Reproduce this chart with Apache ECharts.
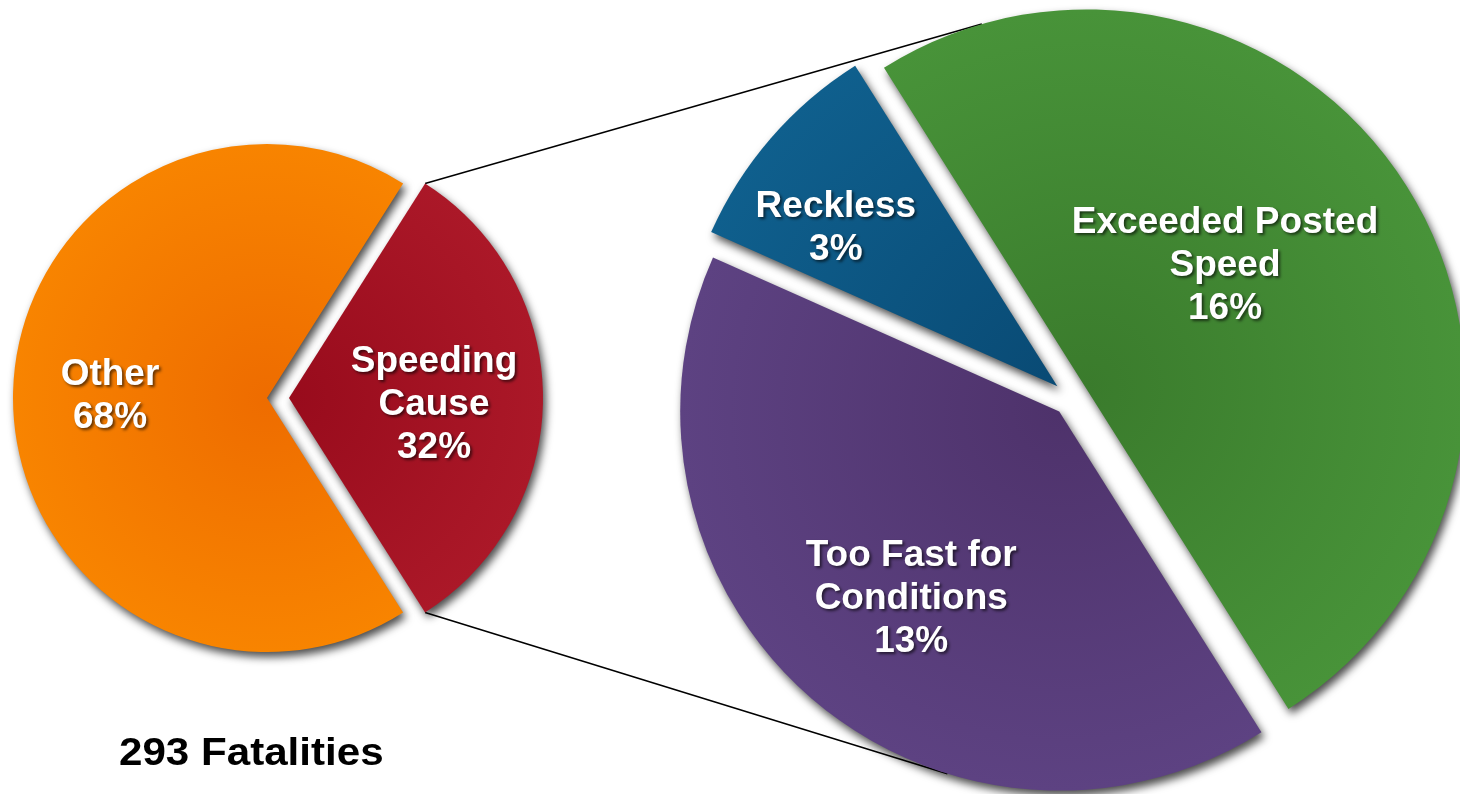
<!DOCTYPE html>
<html>
<head>
<meta charset="utf-8">
<script src="https://cdn.jsdelivr.net/npm/echarts@6/dist/echarts.min.js"></script>
<style>
  html, body { margin: 0; padding: 0; background: #ffffff; }
  #chart { width: 1460px; height: 794px; }
</style>
</head>
<body>
<div id="chart"></div>
<script>
// Share of fatalities: all causes vs. speeding-related
const overviewNames = ['Speeding\nCause', 'Other'];
const overviewValues = [32, 68];

// Breakdown of the speeding-related share
const speedingNames = ['Reckless', 'Exceeded Posted\nSpeed', 'Too Fast for\nConditions'];
const speedingValues = [3, 16, 13];

const totalFatalities = 293;

// Colours: [centre, rim] for each slice
const overviewColors = [['#980b1c', '#ab1828'], ['#ee6c00', '#f88400']];
const speedingColors = [['#094a74', '#0f5f8d'], ['#3a7b2c', '#489339'], ['#4e326b', '#5d4282']];

// Pie geometry
const LEFT = { cx: 267, cy: 398, r: 254, offset: 22 };
const RIGHT = { cx: 1071, cy: 398, r: 379, offset: 18 };

const sum = a => a.reduce((s, v) => s + v, 0);
// First slice of the overview pie is centred on 3 o'clock
LEFT.start = overviewValues[0] / sum(overviewValues) * 180;
RIGHT.start = 156;

const DEG = Math.PI / 180;

// Slice angle spans (math degrees, clockwise from start)
function spans(values, start) {
  const total = sum(values);
  let a = start;
  return values.map(v => {
    const s = a, e = a - v / total * 360;
    a = e;
    return { s, e, mid: (s + e) / 2 };
  });
}
const leftSpans = spans(overviewValues, LEFT.start);
const rightSpans = spans(speedingValues, RIGHT.start);

function shifted(geo, mid) {
  return [geo.cx + geo.offset * Math.cos(mid * DEG), geo.cy - geo.offset * Math.sin(mid * DEG)];
}

// Tangent from point P to circle (C, r); side -1 upper, +1 lower
function tangent(P, C, r, side) {
  const dx = C[0] - P[0], dy = C[1] - P[1];
  const d = Math.hypot(dx, dy);
  const theta = Math.atan2(dy, dx);
  const alpha = Math.asin(r / d);
  const dir = theta + side * alpha;
  const len = Math.sqrt(d * d - r * r);
  return [P[0] + len * Math.cos(dir), P[1] + len * Math.sin(dir)];
}

// Corners of the exploded speeding slice
const spApex = shifted(LEFT, leftSpans[0].mid);
const spTop = [spApex[0] + LEFT.r * Math.cos(leftSpans[0].s * DEG), spApex[1] - LEFT.r * Math.sin(leftSpans[0].s * DEG)];
const spBot = [spApex[0] + LEFT.r * Math.cos(leftSpans[0].e * DEG), spApex[1] - LEFT.r * Math.sin(leftSpans[0].e * DEG)];
const topEnd = tangent(spTop, shifted(RIGHT, rightSpans[1].mid), RIGHT.r, -1);
const botEnd = tangent(spBot, shifted(RIGHT, rightSpans[2].mid), RIGHT.r, 1);

function grad(geo, c) {
  return {
    type: 'radial', x: geo.cx, y: geo.cy, r: geo.r, global: true,
    colorStops: [{ offset: 0, color: c[0] }, { offset: 1, color: c[1] }]
  };
}

const labelBase = {
  show: true,
  position: 'inside',
  color: '#ffffff',
  fontFamily: 'Liberation Sans, Arial, sans-serif',
  fontWeight: 'bold',
  fontSize: 37,
  lineHeight: 43,
  align: 'center',
  verticalAlign: 'middle',
  textShadowColor: 'rgba(0,0,0,0.6)',
  textShadowBlur: 3,
  textShadowOffsetX: 2,
  textShadowOffsetY: 2,
  formatter: p => p.name + '\n' + p.value + '%'
};

const sliceStyle = {
  shadowColor: 'rgba(0,0,0,0.7)',
  shadowBlur: 8,
  shadowOffsetX: 3,
  shadowOffsetY: 5,
  borderWidth: 0
};

// Label nudges away from the default inside spot, per slice
const leftLabelShift = [[15, 7], [-27, -2]];
const rightLabelShift = [[-76, -32], [-24, -20], [-22, 42]];

const chart = echarts.init(document.getElementById('chart'), null, { renderer: 'canvas' });
chart.setOption({
  animation: false,
  backgroundColor: '#ffffff',
  graphic: {
    elements: [
      { type: 'line', z: 0, shape: { x1: spTop[0], y1: spTop[1], x2: topEnd[0], y2: topEnd[1] }, style: { stroke: '#000', lineWidth: 1.6 } },
      { type: 'line', z: 0, shape: { x1: spBot[0], y1: spBot[1], x2: botEnd[0], y2: botEnd[1] }, style: { stroke: '#000', lineWidth: 1.6 } },
      {
        type: 'text', z: 10, x: 119, y: 754, scaleX: 1.08,
        style: {
          text: totalFatalities + ' Fatalities',
          fill: '#000000',
          font: 'bold 39px "Liberation Sans", Arial, sans-serif',
          textAlign: 'left',
          textVerticalAlign: 'middle'
        }
      }
    ]
  },
  series: [
    {
      type: 'pie',
      z: 5,
      center: [LEFT.cx, LEFT.cy],
      radius: LEFT.r,
      startAngle: LEFT.start,
      clockwise: true,
      selectedMode: 'multiple',
      selectedOffset: LEFT.offset,
      avoidLabelOverlap: false,
      emphasis: { disabled: true },
      labelLine: { show: false },
      label: labelBase,
      labelLayout: p => ({ dx: leftLabelShift[p.dataIndex][0], dy: leftLabelShift[p.dataIndex][1] }),
      itemStyle: sliceStyle,
      data: overviewValues.map((v, i) => ({
        name: overviewNames[i],
        value: v,
        selected: i === 0,
        itemStyle: { color: grad(LEFT, overviewColors[i]) }
      }))
    },
    {
      type: 'pie',
      z: 5,
      center: [RIGHT.cx, RIGHT.cy],
      radius: RIGHT.r,
      startAngle: RIGHT.start,
      clockwise: true,
      selectedMode: 'multiple',
      selectedOffset: RIGHT.offset,
      avoidLabelOverlap: false,
      emphasis: { disabled: true },
      labelLine: { show: false },
      label: labelBase,
      labelLayout: p => ({ dx: rightLabelShift[p.dataIndex][0], dy: rightLabelShift[p.dataIndex][1] }),
      itemStyle: sliceStyle,
      data: speedingValues.map((v, i) => ({
        name: speedingNames[i],
        value: v,
        selected: true,
        itemStyle: { color: grad(RIGHT, speedingColors[i]) }
      }))
    }
  ]
});
</script>
</body>
</html>
